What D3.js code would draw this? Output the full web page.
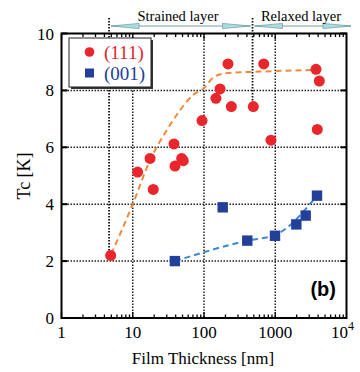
<!DOCTYPE html>
<html><head><meta charset="utf-8">
<script src="https://cdn.jsdelivr.net/npm/d3@7"></script>
<style>html,body{margin:0;padding:0;background:#fff;}svg{display:block;}</style>
</head><body>
<svg id="chart" width="360" height="372"></svg>
<script>
// ---- data ----
const x111  = [4.9, 11.7, 17.5, 19.4, 37.9, 39.2, 48.6, 51.2, 93.8, 147, 168, 217, 242, 492, 689, 871, 3733, 3890, 4154];
const tc111 = [2.2, 5.13, 5.61, 4.52, 6.12, 5.34, 5.61, 5.53, 6.94, 7.72, 8.05, 8.93, 7.43, 7.43, 8.93, 6.25, 8.74, 6.63, 8.33];
const x001  = [39, 183, 405, 992, 1977, 2674, 3855];
const tc001 = [2.0, 3.89, 2.72, 2.89, 3.29, 3.6, 4.3];
const fit111X = [5, 10, 17.5, 30, 46, 71, 100, 135, 200, 600, 3800];
const fit111Y = [2.25, 4.0, 5.55, 6.6, 7.3, 7.85, 8.08, 8.45, 8.6, 8.66, 8.72];
const fit001X = [39, 405, 1000, 3800];
const fit001Y = [2.0, 2.72, 2.92, 4.28];
const xTickVals = [1, 10, 100, 1000, 10000];
const xTickLabels = ["1", "10", "100", "1000", "10^4"];
const yTickVals = [0, 2, 4, 6, 8, 10];
const boundaryX = [4.65, 480];
const regionLabels = ["Strained layer", "Relaxed layer"];
const legendLabels = ["(111)", "(001)"];

const red = "#e8262b", blue = "#22409a", orange = "#f08a3c", lblue = "#3a87d5";
const svg = d3.select("#chart");
const x = d3.scaleLog().domain([1, 1e4]).range([61.5, 346.5]);
const y = d3.scaleLinear().domain([0, 10]).range([318, 33.5]);
const serif = "'Liberation Serif','DejaVu Serif',serif";

// grid lines
const grid = svg.append("g").attr("stroke", "#222").attr("stroke-width", 1.5).attr("stroke-dasharray", "1.5 1.5");
[10, 100, 1000].forEach(v => grid.append("line").attr("x1", x(v)).attr("x2", x(v)).attr("y1", y(10)).attr("y2", y(0)));
[2, 4, 6, 8].forEach(v => grid.append("line").attr("x1", x(1)).attr("x2", x(1e4)).attr("y1", y(v)).attr("y2", y(v)));

// boundary dotted verticals
svg.append("line").attr("x1", x(boundaryX[0])).attr("x2", x(boundaryX[0])).attr("y1", 18).attr("y2", y(tc111[0]))
  .attr("stroke", "#111").attr("stroke-width", 1.8).attr("stroke-dasharray", "1.5 1.5");
svg.append("line").attr("x1", x(boundaryX[1])).attr("x2", x(boundaryX[1])).attr("y1", 18).attr("y2", y(7.43))
  .attr("stroke", "#111").attr("stroke-width", 1.8).attr("stroke-dasharray", "1.5 1.5");

// ticks
const tk = svg.append("g").attr("stroke", "#000").attr("stroke-width", 1.3);
for (let d = 1; d < 1e4; d *= 10) {
  for (let m = 1; m < 10; m++) {
    const v = d * m, len = m === 1 ? 6 : 3.5;
    tk.append("line").attr("x1", x(v)).attr("x2", x(v)).attr("y1", y(0)).attr("y2", y(0) - len);
    tk.append("line").attr("x1", x(v)).attr("x2", x(v)).attr("y1", y(10)).attr("y2", y(10) + len);
  }
}
yTickVals.forEach(v => {
  tk.append("line").attr("x1", x(1)).attr("x2", x(1) + 6).attr("y1", y(v)).attr("y2", y(v)).attr("stroke-width", 2);
  tk.append("line").attr("x1", x(1e4)).attr("x2", x(1e4) - 6).attr("y1", y(v)).attr("y2", y(v)).attr("stroke-width", 2);
});

// frame
svg.append("rect").attr("x", x(1)).attr("y", y(10)).attr("width", x(1e4) - x(1)).attr("height", y(0) - y(10))
  .attr("fill", "none").attr("stroke", "#000").attr("stroke-width", 2);

// fit curves
const line = d3.line().x(d => x(d[0])).y(d => y(d[1])).curve(d3.curveMonotoneX);
svg.append("path").attr("d", line(fit111X.map((v, i) => [v, fit111Y[i]])))
  .attr("fill", "none").attr("stroke", orange).attr("stroke-width", 2).attr("stroke-dasharray", "6 4");
svg.append("path").attr("d", line(fit001X.map((v, i) => [v, fit001Y[i]])))
  .attr("fill", "none").attr("stroke", lblue).attr("stroke-width", 2).attr("stroke-dasharray", "6 4");

// markers
svg.append("g").selectAll("circle").data(x111.map((v, i) => [v, tc111[i]])).join("circle")
  .attr("cx", d => x(d[0])).attr("cy", d => y(d[1])).attr("r", 5.5).attr("fill", red);
svg.append("g").selectAll("rect").data(x001.map((v, i) => [v, tc001[i]])).join("rect")
  .attr("x", d => x(d[0]) - 5.2).attr("y", d => y(d[1]) - 5.2).attr("width", 10.4).attr("height", 10.4).attr("fill", blue);

// legend
const lg = svg.append("g");
lg.append("rect").attr("x", 71).attr("y", 40).attr("width", 82).attr("height", 49).attr("fill", "#333");
lg.append("rect").attr("x", 69).attr("y", 38).attr("width", 82).attr("height", 49).attr("fill", "#fff").attr("stroke", "#222").attr("stroke-width", 1);
lg.append("circle").attr("cx", 89.5).attr("cy", 52).attr("r", 4.8).attr("fill", red);
lg.append("rect").attr("x", 85).attr("y", 68.5).attr("width", 9).attr("height", 9).attr("fill", blue);
lg.append("text").attr("x", 104).attr("y", 58.5).text(legendLabels[0]).attr("fill", red)
  .attr("font-family", serif).attr("font-size", 19);
lg.append("text").attr("x", 104).attr("y", 80).text(legendLabels[1]).attr("fill", blue)
  .attr("font-family", serif).attr("font-size", 19);

// axis tick labels
const xl = svg.append("g").attr("font-family", serif).attr("font-size", 17).attr("fill", "#000");
xTickVals.forEach((v, i) => {
  const lab = xTickLabels[i];
  if (lab.includes("^")) {
    const [b, e] = lab.split("^");
    const t = xl.append("text").attr("x", x(v) - 4).attr("y", 338).attr("text-anchor", "middle");
    t.append("tspan").text(b);
    t.append("tspan").attr("dy", -8).attr("font-size", 12).text(e);
  } else {
    xl.append("text").attr("x", x(v)).attr("y", 338).attr("text-anchor", "middle").text(lab);
  }
});
yTickVals.forEach(v => {
  xl.append("text").attr("x", 54).attr("y", y(v) + 6).attr("text-anchor", "end").text(v);
});

// axis titles
svg.append("text").attr("x", 203).attr("y", 364).attr("text-anchor", "middle")
  .attr("font-family", serif).attr("font-size", 17).text("Film Thickness [nm]");
svg.append("text").attr("transform", "translate(30,176) rotate(-90)").attr("text-anchor", "middle")
  .attr("font-family", serif).attr("font-size", 18).text("Tc [K]");

// (b)
svg.append("text").attr("x", 336).attr("y", 296).attr("text-anchor", "end")
  .attr("font-family", "'Liberation Sans',Arial,sans-serif").attr("font-weight", "bold").attr("font-size", 20).text("(b)");

// region arrows
function arrow(x1, x2, yy) {
  const g = svg.append("g");
  g.append("line").attr("x1", x1).attr("x2", x2).attr("y1", yy).attr("y2", yy).attr("stroke", "#7a9ea5").attr("stroke-width", 1);
  const hl = 28, hw = 2.6;
  g.append("polygon").attr("points", [[x1, yy], [x1 + hl, yy - hw], [x1 + hl, yy + hw]].join(" "))
    .attr("fill", "#a9dde2").attr("stroke", "#6f98a0").attr("stroke-width", 0.7);
  g.append("polygon").attr("points", [[x2, yy], [x2 - hl, yy - hw], [x2 - hl, yy + hw]].join(" "))
    .attr("fill", "#a9dde2").attr("stroke", "#6f98a0").attr("stroke-width", 0.7);
}
arrow(x(boundaryX[0]) + 2, x(boundaryX[1]) - 2, 26);
arrow(x(boundaryX[1]) + 2, 351, 26);
svg.append("text").attr("x", 178).attr("y", 21).attr("text-anchor", "middle")
  .attr("font-family", serif).attr("font-size", 14.5).text(regionLabels[0]);
svg.append("text").attr("x", 301).attr("y", 21).attr("text-anchor", "middle")
  .attr("font-family", serif).attr("font-size", 14.5).text(regionLabels[1]);
</script>
</body></html>
